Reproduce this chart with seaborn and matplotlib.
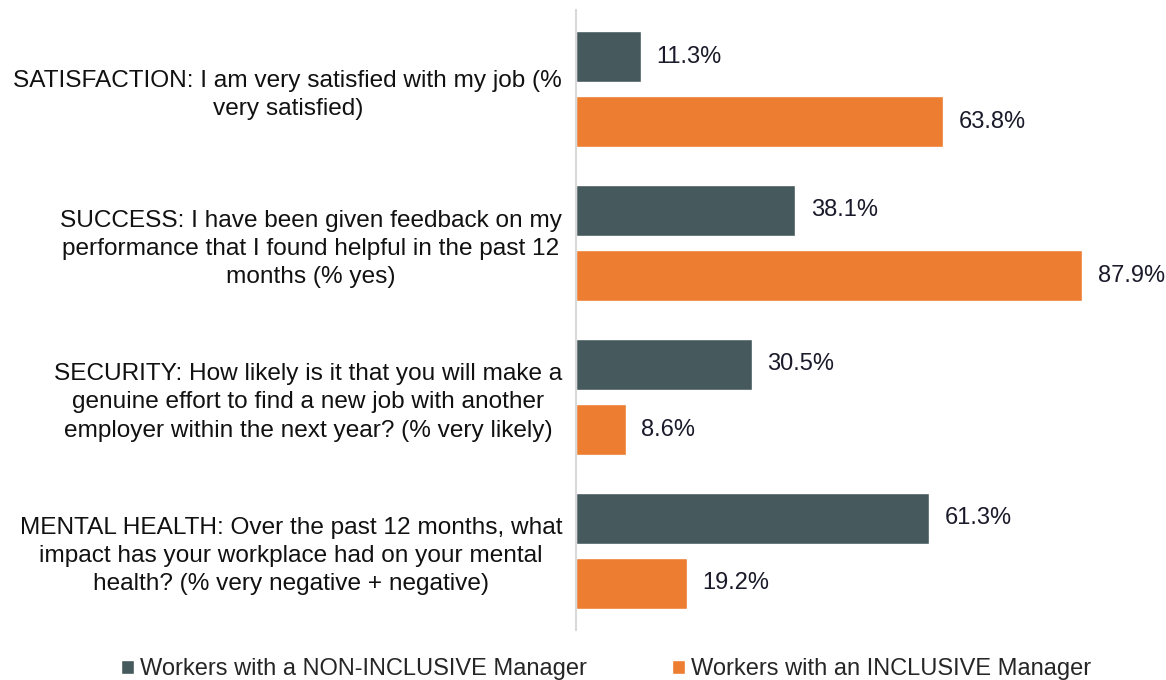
import pandas as pd
import seaborn as sns
import matplotlib.pyplot as plt

questions = [
    "SATISFACTION: I am very satisfied with my job (%\nvery satisfied)",
    "SUCCESS: I have been given feedback on my\nperformance that I found helpful in the past 12\nmonths (% yes)",
    "SECURITY: How likely is it that you will make a\ngenuine effort to find a new job with another\nemployer within the next year? (% very likely)",
    "MENTAL HEALTH: Over the past 12 months, what\nimpact has your workplace had on your mental\nhealth? (% very negative + negative)",
]
groups = ["Workers with a NON-INCLUSIVE Manager", "Workers with an INCLUSIVE Manager"]
non_inclusive = [11.3, 38.1, 30.5, 61.3]
inclusive = [63.8, 87.9, 8.6, 19.2]
colors = ["#465A5D", "#ED7D31"]

df = pd.DataFrame({
    "question": questions * 2,
    "value": non_inclusive + inclusive,
    "group": [groups[0]] * 4 + [groups[1]] * 4,
})

sns.set_style("white")
plt.rcParams["font.family"] = ["Liberation Sans", "DejaVu Sans"]

fig = plt.figure(figsize=(11.66, 6.8), dpi=100)
ax = fig.add_axes([576 / 1166, 50 / 680, (1160 - 576) / 1166, 620 / 680])

sns.barplot(data=df, y="question", x="value", hue="group", orient="h",
            palette=colors, saturation=1, width=0.85, gap=0.22, ax=ax, legend=True)

for c in ax.containers:
    ax.bar_label(c, fmt="%.1f%%", padding=11, fontsize=17, color="#1a1a2a")

ax.set_xlim(0, 101.4)
ax.set_ylim(3.515, -0.515)
ax.set_xlabel("")
ax.set_ylabel("")
ax.set_xticks([])
ax.tick_params(axis="y", length=0, pad=10, labelsize=17.6, labelcolor="#111111")
for lab in ax.get_yticklabels():
    lab.set_multialignment("center")
    lab.set_linespacing(1.36)

for s in ["top", "right", "bottom"]:
    ax.spines[s].set_visible(False)
ax.spines["left"].set_color("#D9D9D9")
ax.spines["left"].set_linewidth(1.5)

ax.legend(loc="lower center", bbox_to_anchor=(606 / 1166, -0.014), bbox_transform=fig.transFigure,
          ncol=2, frameon=False, fontsize=17, handlelength=0.55, handleheight=0.55,
          handletextpad=0.25, columnspacing=3.6, borderaxespad=0)

fig.savefig("out.png", dpi=100)
